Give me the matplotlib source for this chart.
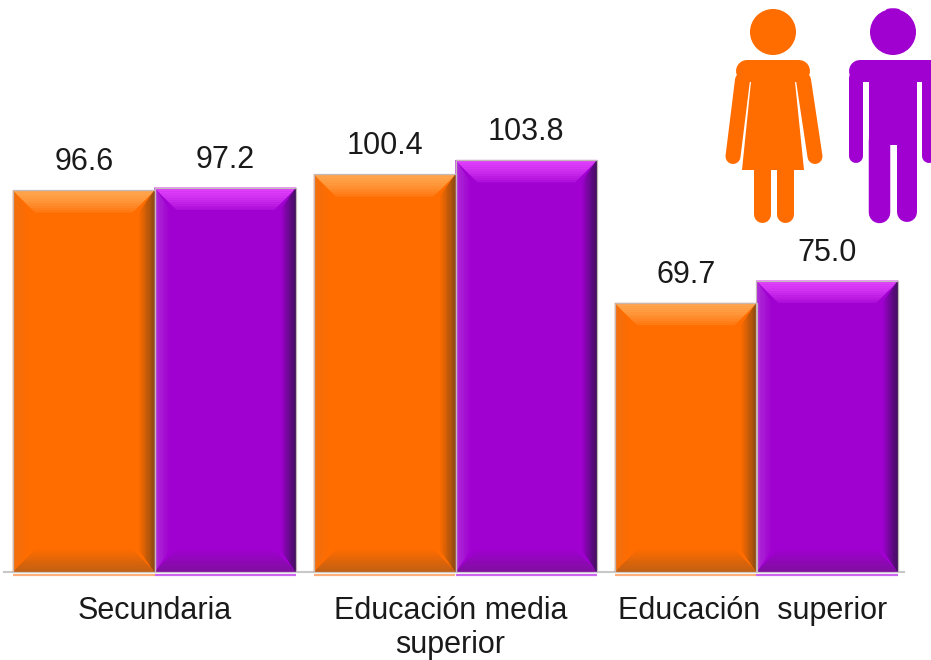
import matplotlib
matplotlib.use("Agg")
import matplotlib.pyplot as plt
import numpy as np
from matplotlib.colors import to_rgb
from matplotlib.patches import Circle, Ellipse, Polygon
from matplotlib.transforms import ScaledTranslation

plt.rcParams['font.family'] = ['Liberation Sans', 'DejaVu Sans']

categories = ["Secundaria", "Educación media\nsuperior", "Educación  superior"]
mujeres = [96.6, 100.4, 69.7]
hombres = [97.2, 103.8, 75.0]
labels_m = ["96.6", "100.4", "69.7"]
labels_h = ["97.2", "103.8", "75.0"]

ORANGE = "#ff6c00"
PURPLE = "#a000d0"
W, H = 931, 660
BASE_PX = 572

fig = plt.figure(figsize=(W / 100, H / 100), dpi=100)
ax = fig.add_axes([4 / W, (H - BASE_PX) / H, 900 / W, BASE_PX / H])

# one category = 301 px, value unit = 4.19 px, axis does not start at 0
group_px = 301.0
unit_px = 4.19
ax.set_xlim((4 - 154.5) / group_px, (904 - 154.5) / group_px)
ax.set_ylim(5.5, 5.5 + BASE_PX / unit_px)

x = np.arange(len(categories))
bw = 141.5 / group_px


def mix(a, b, t):
    a, b = np.array(to_rgb(a)), np.array(to_rgb(b))
    return tuple(a + (b - a) * t)


def bevel(x0, x1, y1, base, top, bottom, left, right):
    # gradient edges of the 3d bar, drawn as thin strips going inwards
    y0 = ax.get_ylim()[0]
    n = 12
    dx, dy = 22 / group_px, 22 / unit_px
    side_dx = 15 / group_px
    for i in range(n):
        a, b = i / n, (i + 1) / n
        c = mix(top, base, a ** 1.5 * 0.85)
        ax.add_patch(Polygon([(x0 + dx * a, y1 - dy * a), (x1 - dx * a, y1 - dy * a),
                              (x1 - dx * b, y1 - dy * b), (x0 + dx * b, y1 - dy * b)],
                             fc=c, ec=c, lw=0.3, zorder=3))
        c = mix(bottom, base, a)
        ax.add_patch(Polygon([(x0 + dx * a, y0 + dy * a), (x1 - dx * a, y0 + dy * a),
                              (x1 - dx * b, y0 + dy * b), (x0 + dx * b, y0 + dy * b)],
                             fc=c, ec=c, lw=0.3, zorder=3))
        c = mix(right, base, a)
        ax.add_patch(Polygon([(x1 - side_dx * a, y0 + dy * a), (x1 - side_dx * a, y1 - dy * a),
                              (x1 - side_dx * b, y1 - dy * b), (x1 - side_dx * b, y0 + dy * b)],
                             fc=c, ec=c, lw=0.3, zorder=4))
        c = mix(left, base, a)
        ax.add_patch(Polygon([(x0 + side_dx * a, y0 + dy * a), (x0 + side_dx * a, y1 - dy * a),
                              (x0 + side_dx * b, y1 - dy * b), (x0 + side_dx * b, y0 + dy * b)],
                             fc=c, ec=c, lw=0.3, zorder=3.5))


bars_m = ax.bar(x - bw / 2, mujeres, bw, bottom=0, color=ORANGE, zorder=2)
bars_h = ax.bar(x + bw / 2, hombres, bw, bottom=0, color=PURPLE, zorder=2)

for r in bars_m:
    bevel(r.get_x(), r.get_x() + r.get_width(), r.get_height(), ORANGE,
          "#ffa64f", "#c05f14", "#f07010", "#8a4a12")
for r in bars_h:
    bevel(r.get_x(), r.get_x() + r.get_width(), r.get_height(), PURPLE,
          "#e040fb", "#80109f", "#b030d8", "#3c1058")

# thin grey outline around each bar
for r in list(bars_m) + list(bars_h):
    ax.add_patch(plt.Rectangle((r.get_x(), 5.5), r.get_width(), r.get_height() - 5.5,
                               fc="none", ec="#c4b8b8", lw=0.9, zorder=5))

for xi, v, t in zip(x - bw / 2, mujeres, labels_m):
    ax.annotate(t, (xi, v), xytext=(0, 9.5), textcoords="offset points",
                ha="center", va="bottom", fontsize=22, color="#1a1a1a")
for xi, v, t in zip(x + bw / 2, hombres, labels_h):
    ax.annotate(t, (xi, v), xytext=(0, 9.5), textcoords="offset points",
                ha="center", va="bottom", fontsize=22, color="#1a1a1a")

ax.set_xticks(x)
ax.set_xticklabels(categories, fontsize=22, color="#1a1a1a", linespacing=1.17)
ax.tick_params(axis="x", length=0, pad=17.5)
ax.set_yticks([])
# the lower labels sit a few px left of the group centres
for lab, dx_px in zip(ax.get_xticklabels(), [0, -5, -4]):
    lab.set_transform(lab.get_transform() + ScaledTranslation(dx_px / 100, 0, fig.dpi_scale_trans))
for s in ["top", "left", "right"]:
    ax.spines[s].set_visible(False)
ax.spines["bottom"].set_color("#c8c8c8")
ax.spines["bottom"].set_linewidth(1.5)
ax.patch.set_alpha(0)

# pictograms and the light strip under the bars, in pixel coordinates
ov = fig.add_axes([0, 0, 1, 1])
ov.set_xlim(0, W)
ov.set_ylim(H, 0)
ov.axis("off")
ov.patch.set_alpha(0)

for r, c in [(r, "#ffb07a") for r in bars_m] + [(r, "#cc66ee") for r in bars_h]:
    p0 = ax.transData.transform((r.get_x(), 5.5))[0]
    p1 = ax.transData.transform((r.get_x() + r.get_width(), 5.5))[0]
    ov.plot([p0, p1], [574.5, 574.5], color=c, lw=1.6, solid_capstyle="butt")


def limb(xs, ys, width, color):
    ov.plot(xs, ys, color=color, lw=width * 0.72, solid_capstyle="round")


# mujer
ov.add_patch(Circle((773, 32), 23, fc=ORANGE, ec="none"))
limb([747, 799], [71, 71], 22, ORANGE)
limb([742.5, 733], [80, 156.5], 15, ORANGE)
limb([803.5, 815], [80, 156.5], 15, ORANGE)
ov.add_patch(Polygon([(752, 72), (794, 72), (804, 170), (742, 170)], fc=ORANGE, ec="none"))
limb([761.5, 761.5], [165, 213.5], 17, ORANGE)
limb([785, 785], [165, 213.5], 17, ORANGE)

# hombre
ov.add_patch(Circle((893, 32), 23, fc=PURPLE, ec="none"))
ov.add_patch(Ellipse((893, 10), 14, 3.5, fc=PURPLE, ec="none"))
limb([860, 940], [71, 71], 22, PURPLE)
ov.add_patch(Polygon([(868.5, 70), (916.5, 70), (916.5, 145), (868.5, 145)], fc=PURPLE, ec="none"))
limb([856, 856], [78, 156], 14, PURPLE)
limb([929, 929], [78, 156], 14, PURPLE)
limb([879, 879], [140, 211.5], 21.5, PURPLE)
limb([906.5, 906.5], [140, 211.5], 20, PURPLE)

fig.savefig("out.png", dpi=100, facecolor="white")
